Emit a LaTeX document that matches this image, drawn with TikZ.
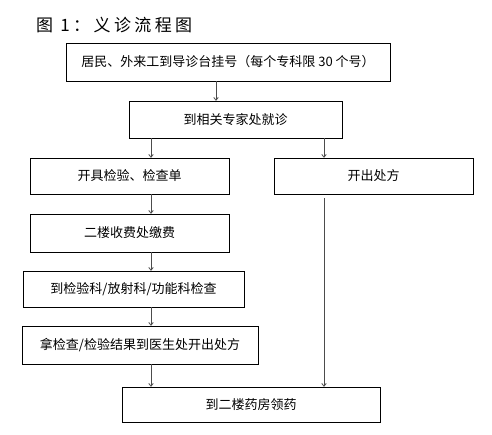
\documentclass[tikz,border=0pt]{standalone}
\usepackage{fontspec}
\setmainfont{Noto Sans CJK SC}
\usepackage{tikz}
\usetikzlibrary{arrows.meta, positioning}

\begin{document}
\begin{tikzpicture}[
    x=1pt, y=-1pt,
    every node/.style={font=\fontsize{13}{15}\selectfont},
    stepbox/.style={rectangle, draw, line width=0.7pt, inner sep=0pt, align=center},
    arr/.style={-{To[length=3.5pt, width=5pt]}, draw=black!70, line width=0.8pt}
]
\useasboundingbox (0,0) rectangle (492,435);

% Title
\node[anchor=west, inner sep=0pt, font=\fontsize{17}{20}\selectfont\addfontfeature{LetterSpace=20}] (title) at (36,25) {图 1：义诊流程图};

% Main column
\node[stepbox, minimum width=324, minimum height=38] (reg) at (228,62) {居民、外来工到导诊台挂号（每个专科限 30 个号）};
\node[stepbox, minimum width=213, minimum height=37] (doc) at (235.5,119.5) {到相关专家处就诊};
\node[stepbox, minimum width=199, minimum height=36] (order) at (129.5,176) {开具检验、检查单};
\node[stepbox, minimum width=199, minimum height=36] (presc) at (373.5,176) {开出处方};
\node[stepbox, minimum width=199, minimum height=38] (pay) at (129.5,233) {二楼收费处缴费};
\node[stepbox, minimum width=221, minimum height=36] (exam) at (133.5,289) {到检验科/放射科/功能科检查};
\node[stepbox, minimum width=236, minimum height=38] (result) at (140,345) {拿检查/检验结果到医生处开出处方};
\node[stepbox, minimum width=258, minimum height=35] (drug) at (251,404.5) {到二楼药房领药};

% Arrow columns
\coordinate (top) at (216,0);
\coordinate (left) at (151,0);
\coordinate (right) at (324,0);

% Arrows
\draw[arr] (reg.south -| top) -- (doc.north -| top);
\draw[arr] (doc.south -| left) -- (order.north -| left);
\draw[arr] (doc.south -| right) -- (presc.north -| right);
\draw[arr] (order.south -| left) -- (pay.north -| left);
\draw[arr] (pay.south -| left) -- (exam.north -| left);
\draw[arr] (exam.south -| left) -- (result.north -| left);
\draw[arr] (result.south -| left) -- (drug.north -| left);
\draw[arr] ([yshift=-4pt]presc.south -| right) -- (drug.north -| right);

\end{tikzpicture}
\end{document}
